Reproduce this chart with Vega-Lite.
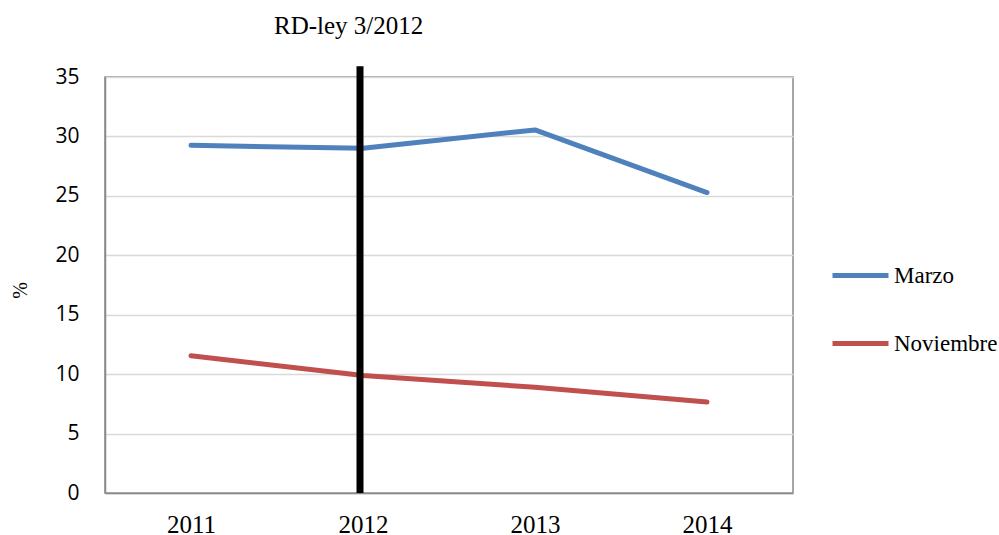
{
  "$schema": "https://vega.github.io/schema/vega-lite/v6.json",
  "autosize": "none",
  "width": 688,
  "height": 416,
  "padding": {"left": 105, "top": 77, "right": 206, "bottom": 42},
  "background": "white",
  "title": {
    "text": "RD-ley 3/2012",
    "anchor": "start",
    "frame": "group",
    "dx": 169,
    "offset": 24,
    "font": "Liberation Serif",
    "fontSize": 25,
    "fontWeight": "normal",
    "color": "black"
  },
  "config": {
    "view": {"stroke": "#898989", "strokeWidth": 1.5},
    "axis": {"domainColor": "#898989", "gridColor": "#D9D9D9", "gridWidth": 1.5}
  },
  "datasets": {
    "series": [
      {"year": "2011", "serie": "Marzo", "value": 29.25},
      {"year": "2012", "serie": "Marzo", "value": 29.0},
      {"year": "2013", "serie": "Marzo", "value": 30.55},
      {"year": "2014", "serie": "Marzo", "value": 25.28},
      {"year": "2011", "serie": "Noviembre", "value": 11.55},
      {"year": "2012", "serie": "Noviembre", "value": 9.88},
      {"year": "2013", "serie": "Noviembre", "value": 8.9},
      {"year": "2014", "serie": "Noviembre", "value": 7.65}
    ],
    "marker": [
      {"year": "2012", "from": 0, "to": 35.9}
    ]
  },
  "layer": [
    {
      "data": {"name": "series"},
      "mark": {"type": "line", "strokeWidth": 5, "strokeCap": "round", "strokeJoin": "round"},
      "encoding": {
        "x": {
          "field": "year", "type": "ordinal",
          "scale": {"type": "point", "padding": 0.5},
          "axis": {
            "title": null, "labelAngle": 0, "ticks": false, "grid": false,
            "labelFont": "Liberation Serif", "labelFontSize": 25, "labelColor": "black",
            "labelPadding": 19, "domainWidth": 1.5
          }
        },
        "y": {
          "field": "value", "type": "quantitative",
          "scale": {"domain": [0, 35], "nice": false},
          "axis": {
            "values": [0, 5, 10, 15, 20, 25, 30, 35],
            "title": "%", "titleFont": "Liberation Serif", "titleFontSize": 20,
            "titleFontWeight": "normal", "titleColor": "black",
            "titleX": -85, "titleY": 213, "titleAngle": -90, "titleBaseline": "middle", "titleAlign": "center",
            "ticks": false, "labelFont": "Open Sans", "labelFontSize": 21, "labelColor": "black",
            "labelPadding": 26, "domainWidth": 1.5
          }
        },
        "color": {
          "field": "serie", "type": "nominal",
          "scale": {"domain": ["Marzo", "Noviembre"], "range": ["#4F81BD", "#C0504D"]},
          "legend": {
            "title": null,
            "orient": "none",
            "legendX": 725,
            "legendY": 168,
            "padding": 0,
            "symbolType": "stroke",
            "symbolSize": 3136,
            "symbolStrokeWidth": 5,
            "labelFont": "Liberation Serif",
            "labelFontSize": 23,
            "labelColor": "black",
            "labelOffset": 3,
            "rowPadding": 25
          }
        }
      }
    },
    {
      "data": {"name": "marker"},
      "mark": {"type": "rule", "color": "black", "strokeWidth": 7, "xOffset": -3, "clip": false},
      "encoding": {
        "x": {"field": "year", "type": "ordinal"},
        "y": {"field": "from", "type": "quantitative"},
        "y2": {"field": "to"}
      }
    }
  ]
}
